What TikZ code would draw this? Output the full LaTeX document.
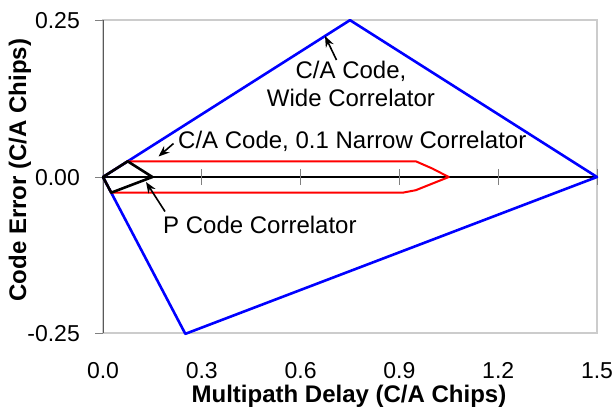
\documentclass[tikz,border=0pt]{standalone}
\usepackage{fontspec}
\setmainfont{Liberation Sans}
\usetikzlibrary{arrows.meta}
\begin{document}
\begin{tikzpicture}[x=1pt,y=-1pt,
  frame/.style={draw=black!20, line width=1.6pt},
  axisline/.style={draw=black!65, line width=0.9pt},
  tickmark/.style={draw=black!50, line width=0.9pt},
  ticklabel/.style={font=\fontsize{23}{27}\selectfont, inner sep=0pt, text depth=0pt},
  axistitle/.style={font=\fontsize{24}{28}\selectfont\bfseries, inner sep=0pt},
  note/.style={font=\fontsize{24}{28}\selectfont, inner sep=0pt, align=center},
  pointer/.style={-{Stealth[length=11pt,width=8.5pt]}, line width=1.6pt, draw=black},
  wide/.style={draw=blue, line width=2.6pt, line join=round},
  narrow/.style={draw=red, line width=2pt, line join=round},
  pcode/.style={draw=black, line width=2.6pt, line join=round}]
\useasboundingbox (0,0) rectangle (616,410);

% plot frame and axes (plot area: x 103..597, y 20..333 px)
\draw[frame] (103,20) rectangle (597,333);
\draw[axisline] (103,20) -- (103,333);
\foreach \yy in {20,177,333} \draw[tickmark] (95,\yy) -- (103,\yy);
\draw[black, line width=1.6pt] (103,177) -- (597,177);
\foreach \i in {1,...,5} \draw[tickmark] ({103+\i*0.3*329.33},169) -- ({103+\i*0.3*329.33},185);

% tick labels
\foreach \i/\lab in {0/0.0,1/0.3,2/0.6,3/0.9,4/1.2,5/1.5}
  \node[ticklabel, anchor=base] (xt\i) at ({103+\i*0.3*329.33},378) {\lab};
\node[ticklabel, anchor=east] (ytop) at (80,20) {0.25};
\node[ticklabel, anchor=east] (ymid) at (80,177) {0.00};
\node[ticklabel, anchor=east] (ybot) at (80,333) {-0.25};

% axis titles
\node[axistitle, anchor=base] (xtitle) at (349,402) {Multipath Delay (C/A Chips)};
\node[axistitle, anchor=base, rotate=90] (ytitle) at (26,170) {Code Error (C/A Chips)};

% error envelopes in data units (delay, error)
\begin{scope}[shift={(103,177)}, x=329.33pt, y=627.4pt]
  \draw[wide] (0,0) -- (0.75,0.25) -- (1.5,0) -- (0.25,-0.25) -- cycle;
  \draw[narrow] (0,0) -- (0.075,0.025) -- (0.95,0.025) -- (1.0,0.0135) -- (1.05,0)
     -- (0.95,-0.021) -- (0.91,-0.025) -- (0.025,-0.025) -- cycle;
  \draw[pcode] (0,0) -- (0.075,0.025) -- (0.15,0) -- (0.025,-0.025) -- cycle;
\end{scope}

% labels and pointers
\node[note, anchor=north] (widelab) at (351,61) {C/A Code,\\Wide Correlator};
\node[note, anchor=base west] (narrowlab) at (178,148) {C/A Code, 0.1 Narrow Correlator};
\node[note, anchor=base west] (plab) at (163,233) {P Code Correlator};

\coordinate (wtail) at (336.5,60);
\coordinate (wtip) at (325,36);
\coordinate (ntail) at (173.5,143.5);
\coordinate (ntip) at (158.5,156.5);
\coordinate (ptail) at (165,211.5);
\coordinate (ptip) at (146,182);
\draw[pointer] (wtail) -- (wtip);
\draw[pointer] (ntail) -- (ntip);
\draw[pointer] (ptail) -- (ptip);
\end{tikzpicture}
\end{document}
